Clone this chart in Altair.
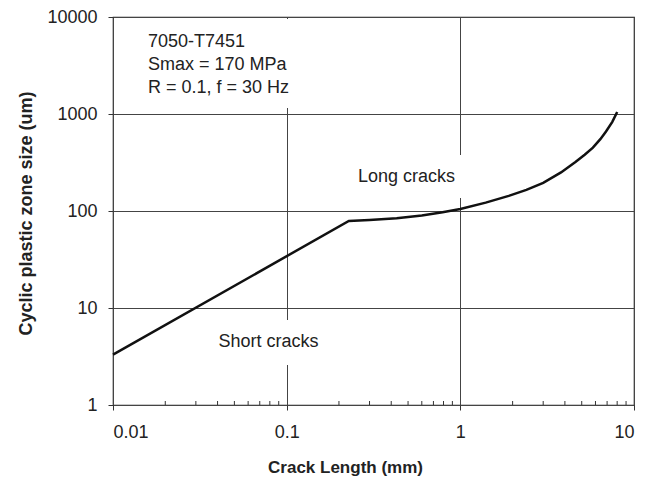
import altair as alt
import pandas as pd

# curve: crack length (mm) vs cyclic plastic zone size (um)
crack_mm = [0.01, 0.228, 0.3, 0.43, 0.6, 0.79, 1.0, 1.4, 1.9, 2.4, 3.0, 3.8, 4.6, 5.2, 5.8, 6.4, 6.9, 7.5, 8.0]
zone_um = [3.3, 79, 81, 84, 90, 97, 105, 122, 143, 165, 195, 250, 320, 380, 450, 550, 660, 830, 1050]

x_ticks = [0.01, 0.1, 1, 10]
y_ticks = [1, 10, 100, 1000, 10000]
minor_x = [m * d for d in [0.01, 0.1, 1] for m in range(2, 10)]

info_lines = ["7050-T7451", "Smax = 170 MPa", "R = 0.1, f = 30 Hz"]
info_x = [0.0159, 0.0159, 0.0159]
info_y = [5525, 3200, 1854]

region_labels = ["Long cracks", "Short cracks"]
region_x = [0.49, 0.0786]
region_y = [225, 4.46]
# white boxes behind the text blocks (gridline gaps)
box_x1 = [0.231, 0.0371, 0.0143]
box_x2 = [1.06, 0.166, 0.119]
box_y1 = [136, 2.58, 1153]
box_y2 = [378, 7.52, 9530]

FONT = "Liberation Sans"
W, H = 521, 388

curve = pd.DataFrame({"x": crack_mm, "y": zone_um})
info = pd.DataFrame({"t": info_lines, "x": info_x, "y": info_y})
regions = pd.DataFrame({"t": region_labels, "x": region_x, "y": region_y})
boxes = pd.DataFrame({"x1": box_x1, "x2": box_x2, "y1": box_y1, "y2": box_y2})
minors = pd.DataFrame({"x": minor_x})

xscale = alt.Scale(type="log", domain=[0.01, 10], nice=False)
yscale = alt.Scale(type="log", domain=[1, 10000], nice=False)

xaxis = alt.Axis(values=x_ticks, format="~g", grid=True, gridColor="#444", gridWidth=1,
                 domain=False, tickSize=5, tickColor="#333", labelPadding=13,
                 labelFont=FONT, labelFontSize=18, labelColor="#222",
                 title="Crack Length (mm)", titleFont=FONT, titleFontSize=17,
                 titleFontWeight="bold", titleColor="#222",
                 titleX=232, titleY=62, titleBaseline="middle")
yaxis = alt.Axis(values=y_ticks, format="d", grid=True, gridColor="#444", gridWidth=1,
                 domain=False, tickSize=5, tickColor="#333", labelPadding=11,
                 labelFont=FONT, labelFontSize=18, labelColor="#222",
                 title="Cyclic plastic zone size (um)", titleFont=FONT, titleFontSize=18,
                 titleFontWeight="bold", titleColor="#222",
                 titleX=-87, titleY=196, titleBaseline="middle", titleAlign="center")

line = alt.Chart(curve).mark_line(color="#111", strokeWidth=2.5).encode(
    x=alt.X("x:Q", scale=xscale, axis=xaxis),
    y=alt.Y("y:Q", scale=yscale, axis=yaxis),
)

rects = alt.Chart(boxes).mark_rect(color="white").encode(
    x=alt.X("x1:Q", scale=xscale), x2="x2:Q",
    y=alt.Y("y1:Q", scale=yscale), y2="y2:Q",
)

minor_ticks = alt.Chart(minors).mark_rule(color="#333", strokeWidth=1).encode(
    x=alt.X("x:Q", scale=xscale),
    y=alt.value(H), y2=alt.value(H - 4),
)

info_text = alt.Chart(info).mark_text(align="left", baseline="middle", font=FONT,
                                      fontSize=18, color="#222").encode(
    x=alt.X("x:Q", scale=xscale), y=alt.Y("y:Q", scale=yscale), text="t:N")

region_text = alt.Chart(regions).mark_text(align="center", baseline="middle", font=FONT,
                                           fontSize=18, color="#222").encode(
    x=alt.X("x:Q", scale=xscale), y=alt.Y("y:Q", scale=yscale), text="t:N")

chart = alt.layer(line, rects, minor_ticks, info_text, region_text).properties(
    width=W, height=H,
    autosize=alt.AutoSizeParams(type="none"),
    padding={"left": 113, "top": 17, "right": 20, "bottom": 77},
    background="white",
).configure_view(stroke="#222", strokeWidth=1.2)

chart.save("out.html", embed_options={"renderer": "svg", "actions": False})
